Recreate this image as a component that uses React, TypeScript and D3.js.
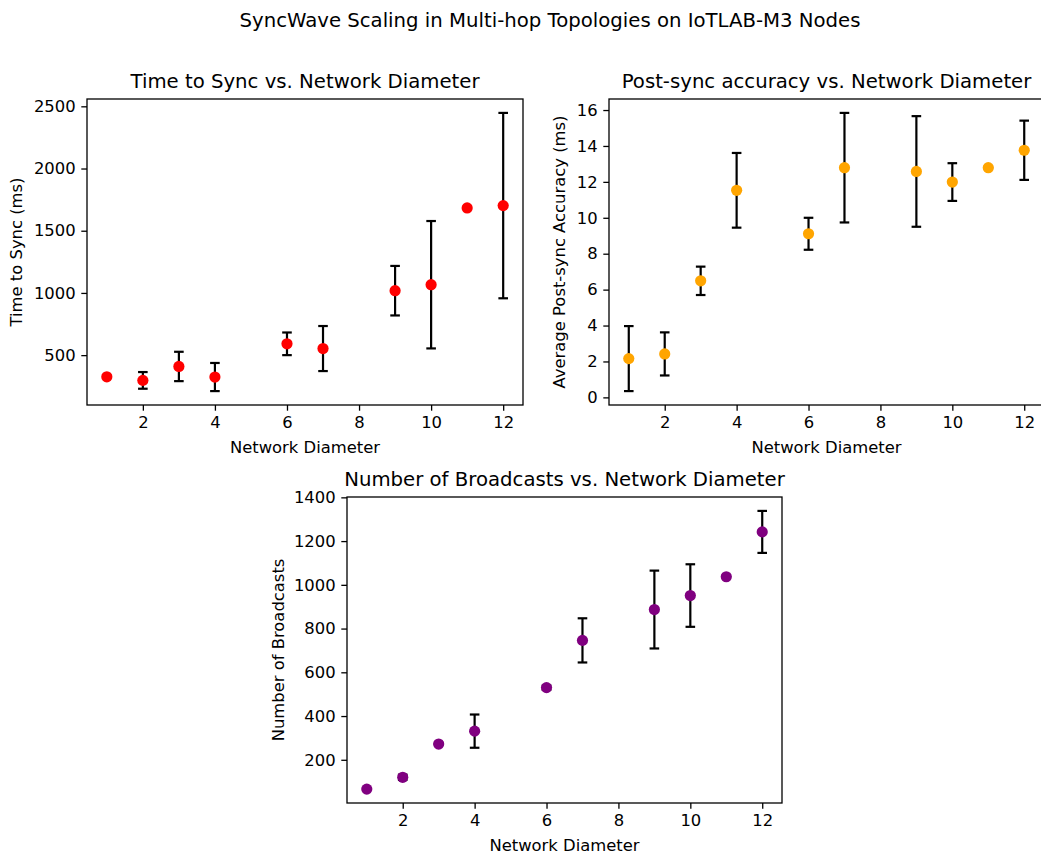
import React, { useEffect, useRef } from "react";
import * as d3 from "d3";

const diameters = [1, 2, 3, 4, 6, 7, 9, 10, 11, 12];
const syncTime = [326, 297, 409, 324, 591, 553, 1018, 1066, 1683, 1702];
const syncTimeErr = [0, 67, 118, 113, 91, 181, 199, 512, 0, 745];
const accuracy = [2.16, 2.42, 6.49, 11.53, 9.11, 12.79, 12.58, 11.99, 12.79, 13.76];
const accuracyErr = [1.81, 1.2, 0.79, 2.08, 0.89, 3.05, 3.08, 1.05, 0, 1.65];
const broadcasts = [66, 120, 272, 331, 530, 746, 887, 951, 1037, 1242];
const broadcastsErr = [0, 12, 0, 76, 10, 101, 178, 143, 0, 96];

const xTicks = [2, 4, 6, 8, 10, 12];
const syncTicks = [500, 1000, 1500, 2000, 2500];
const accuracyTicks = [0, 2, 4, 6, 8, 10, 12, 14, 16];
const broadcastTicks = [200, 400, 600, 800, 1000, 1200, 1400];

const FONT = "DejaVu Sans, sans-serif";
const TICK_FS = "16.4px";
const TITLE_FS = "19.7px";

// pad a [min, max] range by 5% each side, like matplotlib does
function padded(lo: number, hi: number) {
  const m = (hi - lo) * 0.05;
  return [lo - m, hi + m];
}

function App() {
  const ref = useRef<SVGSVGElement>(null);

  useEffect(() => {
    document.body.style.margin = "0";
    const svg = d3.select(ref.current);
    svg.selectAll("*").remove();

    svg
      .append("text")
      .attr("x", 550)
      .attr("y", 27)
      .attr("text-anchor", "middle")
      .attr("font-size", TITLE_FS)
      .attr("font-family", FONT)
      .text("SyncWave Scaling in Multi-hop Topologies on IoTLAB-M3 Nodes");

    const panels = [
      {
        box: { left: 87, right: 523, top: 99, bottom: 405 },
        values: syncTime,
        errs: syncTimeErr,
        ticks: syncTicks,
        color: "#ff0000",
        title: "Time to Sync vs. Network Diameter",
        yLabel: "Time to Sync (ms)",
        yLabelX: 22,
      },
      {
        box: { left: 609, right: 1044, top: 99, bottom: 405 },
        values: accuracy,
        errs: accuracyErr,
        ticks: accuracyTicks,
        color: "#ffa500",
        title: "Post-sync accuracy vs. Network Diameter",
        yLabel: "Average Post-sync Accuracy (ms)",
        yLabelX: 565,
      },
      {
        box: { left: 347, right: 782, top: 497, bottom: 803 },
        values: broadcasts,
        errs: broadcastsErr,
        ticks: broadcastTicks,
        color: "#800080",
        title: "Number of Broadcasts vs. Network Diameter",
        yLabel: "Number of Broadcasts",
        yLabelX: 284,
      },
    ];

    panels.forEach((p) => {
      const { box } = p;
      const x = d3
        .scaleLinear()
        .domain(padded(d3.min(diameters)!, d3.max(diameters)!))
        .range([box.left, box.right]);
      const lows = p.values.map((v, i) => v - p.errs[i]);
      const highs = p.values.map((v, i) => v + p.errs[i]);
      const y = d3
        .scaleLinear()
        .domain(padded(d3.min(lows)!, d3.max(highs)!))
        .range([box.bottom, box.top]);

      const g = svg.append("g");

      // error bars
      const bars = g
        .selectAll("g.err")
        .data(diameters)
        .enter()
        .append("g")
        .attr("stroke", "#000")
        .attr("stroke-width", 2.2);
      bars
        .append("line")
        .attr("x1", (d) => x(d))
        .attr("x2", (d) => x(d))
        .attr("y1", (d, i) => y(lows[i]))
        .attr("y2", (d, i) => y(highs[i]));
      bars
        .append("line")
        .attr("x1", (d) => x(d) - 4.8)
        .attr("x2", (d) => x(d) + 4.8)
        .attr("y1", (d, i) => y(lows[i]))
        .attr("y2", (d, i) => y(lows[i]));
      bars
        .append("line")
        .attr("x1", (d) => x(d) - 4.8)
        .attr("x2", (d) => x(d) + 4.8)
        .attr("y1", (d, i) => y(highs[i]))
        .attr("y2", (d, i) => y(highs[i]));

      g.selectAll("circle")
        .data(diameters)
        .enter()
        .append("circle")
        .attr("cx", (d) => x(d))
        .attr("cy", (d, i) => y(p.values[i]))
        .attr("r", 5.6)
        .attr("fill", p.color);

      const xAxis = g
        .append("g")
        .attr("transform", `translate(0, ${box.bottom})`)
        .call(d3.axisBottom(x).tickValues(xTicks).tickSize(5.7).tickPadding(5.7));
      const yAxis = g
        .append("g")
        .attr("transform", `translate(${box.left}, 0)`)
        .call(
          d3.axisLeft(y).tickValues(p.ticks).tickFormat(d3.format("d")).tickSize(5.7).tickPadding(5.7)
        );
      [xAxis, yAxis].forEach((a) => {
        a.select(".domain").remove();
        a.selectAll("line").attr("stroke", "#000").attr("stroke-width", 1.3);
        a.selectAll("text")
          .attr("font-family", FONT)
          .attr("font-size", TICK_FS)
          .attr("fill", "#000");
      });

      g.append("rect")
        .attr("x", box.left)
        .attr("y", box.top)
        .attr("width", box.right - box.left)
        .attr("height", box.bottom - box.top)
        .attr("fill", "none")
        .attr("stroke", "#000")
        .attr("stroke-width", 1.3);

      g.append("text")
        .attr("x", (box.left + box.right) / 2)
        .attr("y", box.top - 11)
        .attr("text-anchor", "middle")
        .attr("font-family", FONT)
        .attr("font-size", TITLE_FS)
        .text(p.title);

      g.append("text")
        .attr("x", (box.left + box.right) / 2)
        .attr("y", box.bottom + 48)
        .attr("text-anchor", "middle")
        .attr("font-family", FONT)
        .attr("font-size", TICK_FS)
        .text("Network Diameter");

      g.append("text")
        .attr(
          "transform",
          `translate(${p.yLabelX}, ${(box.top + box.bottom) / 2}) rotate(-90)`
        )
        .attr("text-anchor", "middle")
        .attr("font-family", FONT)
        .attr("font-size", TICK_FS)
        .text(p.yLabel);
    });
  }, []);

  return (
    <div>
      <svg ref={ref} width={1041} height={855} style={{ display: "block" }} />
    </div>
  );
}

export default App;
